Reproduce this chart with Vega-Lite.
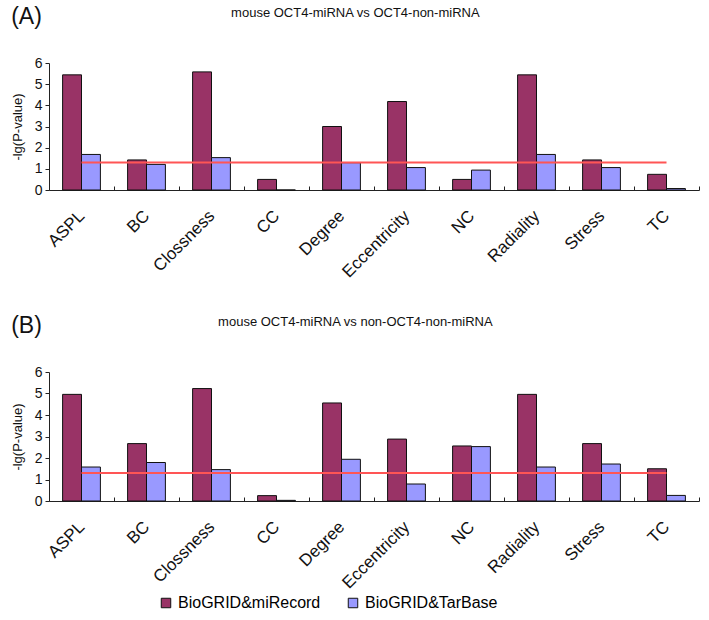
{
  "$schema": "https://vega.github.io/schema/vega-lite/v6.json",
  "padding": {"left": 11, "top": 6, "right": 5, "bottom": 5},
  "background": "white",
  "config": {
    "font": "Liberation Sans",
    "view": {"stroke": null},
    "concat": {"spacing": 34},
    "axis": {"domainColor": "#222", "tickColor": "#222", "labelColor": "#111", "titleColor": "#111", "grid": false},
    "title": {"font": "Liberation Sans", "fontWeight": "normal", "color": "#111"}
  },
  "datasets": {
    "A": [
      {"metric": "ASPL", "source": "BioGRID&miRecord", "value": 5.44},
      {"metric": "ASPL", "source": "BioGRID&TarBase", "value": 1.68},
      {"metric": "BC", "source": "BioGRID&miRecord", "value": 1.42},
      {"metric": "BC", "source": "BioGRID&TarBase", "value": 1.21},
      {"metric": "Clossness", "source": "BioGRID&miRecord", "value": 5.58},
      {"metric": "Clossness", "source": "BioGRID&TarBase", "value": 1.53},
      {"metric": "CC", "source": "BioGRID&miRecord", "value": 0.5},
      {"metric": "CC", "source": "BioGRID&TarBase", "value": 0},
      {"metric": "Degree", "source": "BioGRID&miRecord", "value": 3.0},
      {"metric": "Degree", "source": "BioGRID&TarBase", "value": 1.29},
      {"metric": "Eccentricity", "source": "BioGRID&miRecord", "value": 4.18},
      {"metric": "Eccentricity", "source": "BioGRID&TarBase", "value": 1.06},
      {"metric": "NC", "source": "BioGRID&miRecord", "value": 0.5},
      {"metric": "NC", "source": "BioGRID&TarBase", "value": 0.94},
      {"metric": "Radiality", "source": "BioGRID&miRecord", "value": 5.44},
      {"metric": "Radiality", "source": "BioGRID&TarBase", "value": 1.68},
      {"metric": "Stress", "source": "BioGRID&miRecord", "value": 1.42},
      {"metric": "Stress", "source": "BioGRID&TarBase", "value": 1.06},
      {"metric": "TC", "source": "BioGRID&miRecord", "value": 0.74},
      {"metric": "TC", "source": "BioGRID&TarBase", "value": 0.07}
    ],
    "B": [
      {"metric": "ASPL", "source": "BioGRID&miRecord", "value": 4.96},
      {"metric": "ASPL", "source": "BioGRID&TarBase", "value": 1.58},
      {"metric": "BC", "source": "BioGRID&miRecord", "value": 2.67},
      {"metric": "BC", "source": "BioGRID&TarBase", "value": 1.79},
      {"metric": "Clossness", "source": "BioGRID&miRecord", "value": 5.23},
      {"metric": "Clossness", "source": "BioGRID&TarBase", "value": 1.46},
      {"metric": "CC", "source": "BioGRID&miRecord", "value": 0.25},
      {"metric": "CC", "source": "BioGRID&TarBase", "value": 0.03},
      {"metric": "Degree", "source": "BioGRID&miRecord", "value": 4.56},
      {"metric": "Degree", "source": "BioGRID&TarBase", "value": 1.94},
      {"metric": "Eccentricity", "source": "BioGRID&miRecord", "value": 2.88},
      {"metric": "Eccentricity", "source": "BioGRID&TarBase", "value": 0.79},
      {"metric": "NC", "source": "BioGRID&miRecord", "value": 2.56},
      {"metric": "NC", "source": "BioGRID&TarBase", "value": 2.53},
      {"metric": "Radiality", "source": "BioGRID&miRecord", "value": 4.96},
      {"metric": "Radiality", "source": "BioGRID&TarBase", "value": 1.58},
      {"metric": "Stress", "source": "BioGRID&miRecord", "value": 2.67},
      {"metric": "Stress", "source": "BioGRID&TarBase", "value": 1.72},
      {"metric": "TC", "source": "BioGRID&miRecord", "value": 1.5},
      {"metric": "TC", "source": "BioGRID&TarBase", "value": 0.26}
    ],
    "thr": [{"metric": "ASPL", "end": "TC", "value": 1.3}]
  },
  "vconcat": [
    {
      "title": {"text": "(A)", "anchor": "start", "fontSize": 23, "offset": -22},
      "vconcat": [
        {
          "title": {"text": "mouse OCT4-miRNA vs OCT4-non-miRNA", "anchor": "middle", "frame": "bounds", "fontSize": 13, "offset": 36},
          "width": 650,
          "height": 127,
          "encoding": {
            "x": {"field": "metric", "type": "nominal",
              "sort": ["ASPL", "BC", "Clossness", "CC", "Degree", "Eccentricity", "NC", "Radiality", "Stress", "TC"],
              "scale": {"domain": ["ASPL", "BC", "Clossness", "CC", "Degree", "Eccentricity", "NC", "Radiality", "Stress", "TC"], "paddingInner": 0, "paddingOuter": 0},
              "axis": {"title": null, "labelAngle": -45, "labelFontSize": 17, "labelPadding": 27, "tickBand": "extent", "tickSize": -4, "labelAlign": "right", "labelBaseline": "middle"}},
            "y": {"field": "value", "type": "quantitative", "scale": {"domain": [0, 6], "nice": false},
              "axis": {"title": "-lg(P-value)", "values": [0, 1, 2, 3, 4, 5, 6], "tickCount": 7, "labelOverlap": false, "labelFontSize": 14, "tickSize": 4, "labelPadding": 3, "titleFontSize": 13, "titleFontWeight": "normal", "titlePadding": 10}}
          },
          "layer": [
            {
              "data": {"name": "A"},
              "mark": {"type": "bar", "stroke": "#111", "strokeWidth": 1},
              "encoding": {
                "xOffset": {"field": "source", "type": "nominal", "sort": ["BioGRID&miRecord", "BioGRID&TarBase"],
                  "scale": {"domain": ["BioGRID&miRecord", "BioGRID&TarBase"], "paddingInner": 0, "paddingOuter": 0.72}},
                "color": {"field": "source", "type": "nominal",
                  "scale": {"domain": ["BioGRID&miRecord", "BioGRID&TarBase"], "range": ["#993366", "#9999ff"]},
                  "legend": {"title": null, "orient": "none", "legendX": 109, "legendY": 532, "direction": "horizontal", "symbolType": "square", "symbolStrokeColor": "#111", "symbolStrokeWidth": 1, "symbolSize": 90, "labelFontSize": 16, "columnPadding": 24}}
              }
            },
            {
              "data": {"name": "thr"},
              "mark": {"type": "rule", "color": "#ff5555", "strokeWidth": 2},
              "encoding": {"x2": {"field": "end"}}
            }
          ]
        }
      ]
    },
    {
      "title": {"text": "(B)", "anchor": "start", "fontSize": 23, "offset": -22},
      "vconcat": [
        {
          "title": {"text": "mouse OCT4-miRNA vs non-OCT4-non-miRNA", "anchor": "middle", "frame": "bounds", "fontSize": 13, "offset": 36},
          "width": 650,
          "height": 129,
          "encoding": {
            "x": {"field": "metric", "type": "nominal",
              "sort": ["ASPL", "BC", "Clossness", "CC", "Degree", "Eccentricity", "NC", "Radiality", "Stress", "TC"],
              "scale": {"domain": ["ASPL", "BC", "Clossness", "CC", "Degree", "Eccentricity", "NC", "Radiality", "Stress", "TC"], "paddingInner": 0, "paddingOuter": 0},
              "axis": {"title": null, "labelAngle": -45, "labelFontSize": 17, "labelPadding": 27, "tickBand": "extent", "tickSize": -4, "labelAlign": "right", "labelBaseline": "middle"}},
            "y": {"field": "value", "type": "quantitative", "scale": {"domain": [0, 6], "nice": false},
              "axis": {"title": "-lg(P-value)", "values": [0, 1, 2, 3, 4, 5, 6], "tickCount": 7, "labelOverlap": false, "labelFontSize": 14, "tickSize": 4, "labelPadding": 3, "titleFontSize": 13, "titleFontWeight": "normal", "titlePadding": 10}}
          },
          "layer": [
            {
              "data": {"name": "B"},
              "mark": {"type": "bar", "stroke": "#111", "strokeWidth": 1},
              "encoding": {
                "xOffset": {"field": "source", "type": "nominal", "sort": ["BioGRID&miRecord", "BioGRID&TarBase"],
                  "scale": {"domain": ["BioGRID&miRecord", "BioGRID&TarBase"], "paddingInner": 0, "paddingOuter": 0.72}},
                "color": {"field": "source", "type": "nominal",
                  "scale": {"domain": ["BioGRID&miRecord", "BioGRID&TarBase"], "range": ["#993366", "#9999ff"]},
                  "legend": {"title": null, "orient": "none", "legendX": 109, "legendY": 532, "direction": "horizontal", "symbolType": "square", "symbolStrokeColor": "#111", "symbolStrokeWidth": 1, "symbolSize": 90, "labelFontSize": 16, "columnPadding": 24}}
              }
            },
            {
              "data": {"name": "thr"},
              "mark": {"type": "rule", "color": "#ff5555", "strokeWidth": 2},
              "encoding": {"x2": {"field": "end"}}
            }
          ]
        }
      ]
    }
  ]
}
